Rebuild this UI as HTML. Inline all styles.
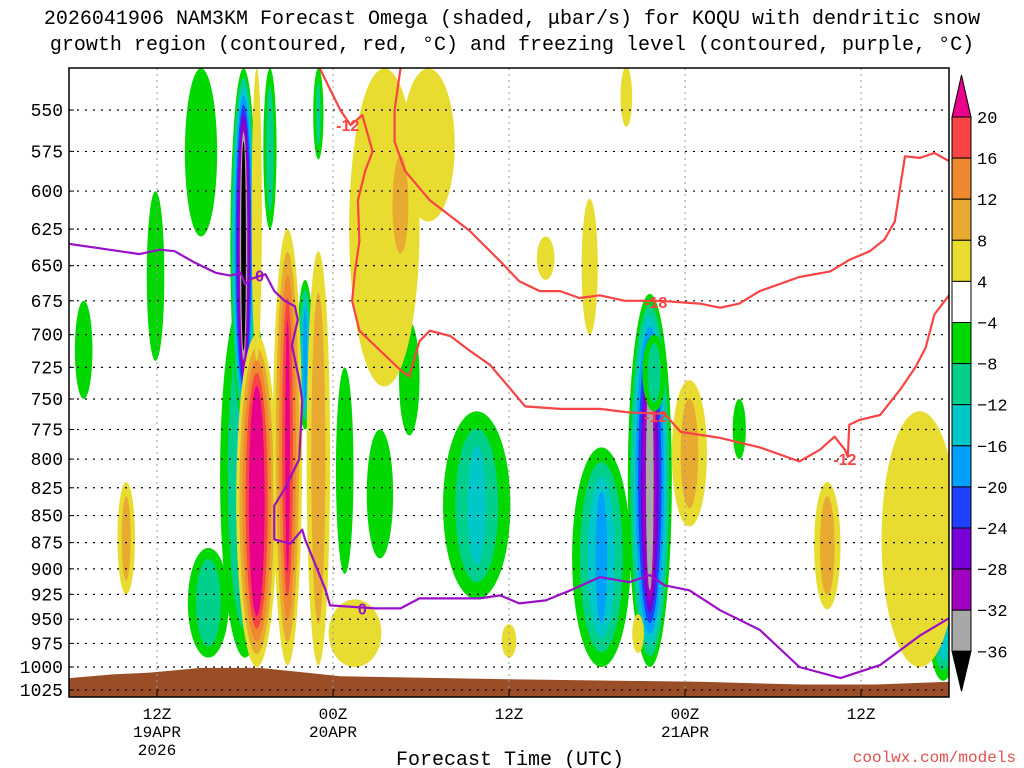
<!DOCTYPE html>
<html><head><meta charset="utf-8"><style>
body{margin:0;background:#fff;}
svg{display:block;font-family:"Liberation Mono","DejaVu Sans Mono",monospace;}
</style></head><body>
<svg id="chart" width="1024" height="768" viewBox="0 0 1024 768">
<text x="512" y="24" text-anchor="middle" font-size="20">2026041906 NAM3KM Forecast Omega (shaded, μbar/s) for KOQU with dendritic snow</text>
<text x="512" y="50" text-anchor="middle" font-size="20">growth region (contoured, red, °C) and freezing level (contoured, purple, °C)</text>
<defs><clipPath id="plotclip"><rect x="69" y="68" width="880" height="629"/></clipPath></defs>
<g id="plot" clip-path="url(#plotclip)"></g>
<rect x="69" y="68" width="880" height="629" fill="none" stroke="#000" stroke-width="1.5"/>
<g id="axes"></g>
<g id="cbar"></g>
<text x="510" y="765" text-anchor="middle" font-size="20">Forecast Time (UTC)</text>
<text x="1016" y="762" text-anchor="end" font-size="16" fill="#e05050">coolwx.com/models</text>
</svg>
<script>
// ---- data ----
const pressureTicks=[550,575,600,625,650,675,700,725,750,775,800,825,850,875,900,925,950,975,1000,1025];
const timeTickHours=[6,18,30,42,54];
const timeTickLabels=[["12Z","19APR","2026"],["00Z","20APR"],["12Z"],["00Z","21APR"],["12Z"]];
const levelValues=[20,16,12,8,4,-4,-8,-12,-16,-20,-24,-28,-32,-36];
const levelColors=["#e8008c","#f84444","#f08830","#e8aa30","#e8dc30","#ffffff","#00d800","#00d08c","#00c8c8","#00a0ff","#2040ff","#7800d8","#a000c0","#a8a8a8","#000000"];
// omega cells: hour, top pressure, bottom pressure, half-width (h), peak (μbar/s)
const cellHour=[9,1,5.9,12,9.5,13.7,17,16.1,18.8,21.2,23.2,27.8,36.3,39.6,39.9,45.7,59.6,11.9, 12.8,12.8,14.9,17.0,19.5,21.5,24.5,22.6,32.5,35.5,38,42.3,51.7,58,3.9,30,38.8];
const cellPTop=[526,675,600,670,880,526,526,660,725,775,690,760,790,670,700,750,870,526, 700,526,625,640,930,526,526,570,630,605,525,735,820,760,820,955,945];
const cellPBot=[630,750,720,990,990,625,580,775,905,890,780,930,1000,1000,760,800,1015,770, 1000,720,998,998,1000,740,620,650,660,700,560,860,940,1000,925,990,985];
const cellHalfW=[1.1,0.6,0.6,1.7,1.4,0.45,0.35,0.55,0.6,0.9,0.7,2.3,2.0,1.5,0.8,0.45,1.1,0.9, 1.4,0.35,1.0,0.8,1.8,2.4,1.8,0.9,0.6,0.55,0.4,1.2,0.9,2.6,0.6,0.5,0.4];
const cellPeak=[-7,-7,-7,-14,-11,-10,-8,-17,-7,-7,-7,-12,-16,-35,-10,-7,-15,-40, 27,6,20,11,7,7,7,11,6,6,6,9,10,6,9,6,6];
// freezing level (0C)
const frzHour=[0,2.1,4.8,6.2,7.2,8.6,10,11,11.7,12,12.5,13.4,14,14.7,15.4,15.6,15.2,15.7,15.9,15.7,14.7,14,14,15.1,15.9,16.1,16.8,17.5,17.8,20.9,22.6,23.9,28,29.4,30.7,32.5,34.2,36.2,38.2,39.6,40.6,42.3,44.4,47.1,49.8,52.6,55.3,58,60];
const frzP=[635,638,642,639,640,648,655,657,655,663,659,656,668,675,679,689,708,735,751,800,826,841,872,876,863,872,896,921,936,939,939,929,929,926,934,931,921,908,913,906,916,921,941,961,1000,1012,998,967,949];
// -12C isotherm
const m12Hour=[17.1,17.8,18.5,19.2,20,20.7,20.2,19.7,19.8,19.5,19.3,19.8,21.2,22.6,23.2,23.9,24.6,26,27.3,28.7,30.1,31.1,33.5,36.2,38.2,40.6,41.7,44.4,47.1,49.8,51.2,52.2,52.9,53.1,53.2,53.9,55.3,56.7,57.7,58.4,59,60];
const m12P=[526,538,550,559,553,575,587,606,633,654,675,697,712,727,732,705,697,701,712,723,742,756,758,758,761,762,777,782,790,802,792,781,792,798,771,767,763,742,725,710,685,671];
// -18C isotherm
const m18Hour=[22.6,22.2,22.2,22.9,24.6,27.3,29.4,30.7,32.1,33.5,34.8,36.2,37.9,40.3,43,44.4,45.7,47.1,49.8,51.9,53.2,54.6,55.6,56.3,57,58,59,60];
const m18P=[526,550,569,587,606,626,647,661,668,668,673,671,675,675,677,680,677,668,658,654,646,640,632,620,578,579,576,581];
const contourLabelText=["-12","-18","-12","-12","0","0"];
const contourLabelHour=[19.0,40.0,40.0,52.9,13.0,20.0];
const contourLabelP=[559,676,764,800,657,939];
const contourLabelColor=["#f84444","#f84444","#f84444","#f84444","#9a10c8","#9a10c8"];
// terrain surface pressure
const terrHour=[0,3,5.5,9,13,15.5,18.5,29,43,50,55,60];
const terrP=[1012,1008,1006,1001,1001,1005,1010,1013,1016,1019,1019,1016];

// ---- scales ----
const NS="http://www.w3.org/2000/svg";
const X0=69,PX=14.667,Y550=110,YK=931.7;
const xs=h=>X0+h*PX;
const ys=p=>Y550+YK*Math.log(p/550);
function mk(tag,attrs,parent){const e=document.createElementNS(NS,tag);for(const k in attrs)e.setAttribute(k,attrs[k]);parent.appendChild(e);return e;}
const plot=document.getElementById('plot');
const axes=document.getElementById('axes');

// omega cells
const posT=[4,8,12,16,20],posC=[4,3,2,1,0];
const negT=[4,8,12,16,20,24,28,32,36],negC=[6,7,8,9,10,11,12,13,14];
cellHour.forEach((h,i)=>{
  const v=cellPeak[i],a=Math.abs(v);
  const T=v>0?posT:negT,C=v>0?posC:negC;
  const yt=ys(cellPTop[i]),yb=ys(cellPBot[i]);
  const cy=(yt+yb)/2,ry=(yb-yt)/2,rx=cellHalfW[i]*PX;
  T.forEach((t,k)=>{
    if(a<t)return;
    const s=1-(t-4)/(a-4+3);
    const e=mk('ellipse',{cx:xs(h),cy:cy,rx:rx*s,ry:ry*(0.5+0.5*s),fill:levelColors[C[k]]},plot);
    
    
  });
});
// terrain
let tp=`M${xs(0)},697 `+terrHour.map((h,i)=>`L${xs(h)},${ys(terrP[i])}`).join(' ')+` L${xs(60)},697 Z`;
const terr=mk('path',{d:tp,fill:'#9a4e28'},plot);


// grid
pressureTicks.forEach(p=>{
  const g=mk('line',{x1:69,x2:949,y1:ys(p),y2:ys(p),stroke:'#000','stroke-width':1.2,'stroke-dasharray':'2,6'},plot);
  
  
});
timeTickHours.forEach(h=>{
  const g=mk('line',{x1:xs(h),x2:xs(h),y1:68,y2:697,stroke:'#999','stroke-width':1,'stroke-dasharray':'2,4'},plot);
  
  
});
// lines
function line(H,P,color,name){
  const d=H.map((h,i)=>(i?'L':'M')+xs(h).toFixed(1)+','+ys(P[i]).toFixed(1)).join(' ');
  const e=mk('path',{d,fill:'none',stroke:color,'stroke-width':2.2,'stroke-linejoin':'round'},plot);
  
  
}
line(m12Hour,m12P,'#f84444','isotherm-minus12');
line(m18Hour,m18P,'#f84444','isotherm-minus18');
line(frzHour,frzP,'#9a10c8','freezing-level');
contourLabelText.forEach((t,i)=>{
  const e=mk('text',{x:xs(contourLabelHour[i]),y:ys(contourLabelP[i])+6,'text-anchor':'middle','font-size':16,'font-weight':'bold',fill:contourLabelColor[i],stroke:'#fff','stroke-width':0,'font-family':'Liberation Sans, sans-serif'},plot);
  e.textContent=t;
  
  
});
// axis labels
pressureTicks.forEach(p=>{
  const t=mk('text',{x:63,y:ys(p)+6,'text-anchor':'end','font-size':18},axes);
  t.textContent=p;
  
  
  mk('line',{x1:69,x2:74,y1:ys(p),y2:ys(p),stroke:'#000'},axes);
});
timeTickHours.forEach((h,i)=>{
  mk('line',{x1:xs(h),x2:xs(h),y1:690,y2:697,stroke:'#000'},axes);
  timeTickLabels[i].forEach((s,j)=>{
    const t=mk('text',{x:xs(h),y:719+j*18,'text-anchor':'middle','font-size':16},axes);
    t.textContent=s;
    
    
  });
});
// colorbar
const cb=document.getElementById('cbar');
const CX=952,CW=19,CT=117,CH=41.1;
mk('polygon',{points:`${CX},${CT} ${CX+CW},${CT} ${CX+CW/2},75`,fill:levelColors[0],stroke:'#000'},cb);
for(let k=1;k<14;k++){
  mk('rect',{x:CX,y:CT+(k-1)*CH,width:CW,height:CH,fill:levelColors[k],stroke:'#000'},cb);
}
const cbEnd=CT+13*CH;
mk('polygon',{points:`${CX},${cbEnd} ${CX+CW},${cbEnd} ${CX+CW/2},${cbEnd+40}`,fill:'#000',stroke:'#000'},cb);
levelValues.forEach((v,k)=>{
  const t=mk('text',{x:977,y:CT+k*CH+6,'font-size':17},cb);
  t.textContent=v<0?'\u2212'+(-v):v;
  
  
});
</script>
</body></html>
